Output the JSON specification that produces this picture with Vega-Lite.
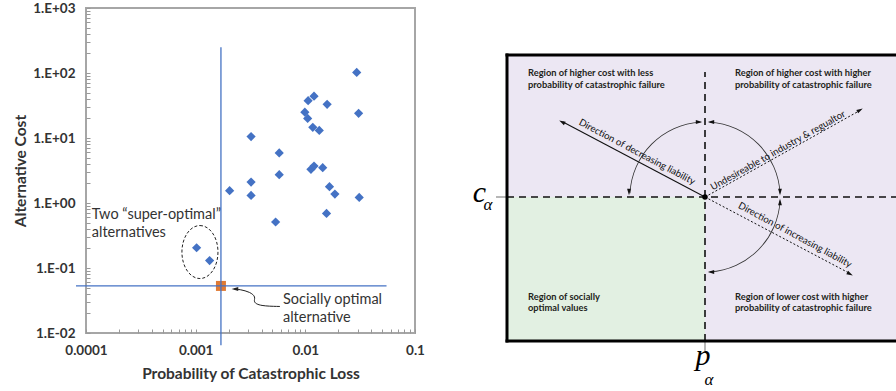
{
  "$schema": "https://vega.github.io/schema/vega-lite/v6.json",
  "background": "white",
  "padding": {"left": 12, "top": 0, "right": 0, "bottom": 0},
  "spacing": 36,
  "config": {"font": "Lato"},
  "datasets": {
    "alts": [
      {"p": 0.0294, "cost": 102}, {"p": 0.012, "cost": 44}, {"p": 0.0106, "cost": 37.5},
      {"p": 0.0158, "cost": 33}, {"p": 0.0306, "cost": 24}, {"p": 0.0099, "cost": 25},
      {"p": 0.0105, "cost": 20}, {"p": 0.0117, "cost": 14.6}, {"p": 0.0134, "cost": 13.1},
      {"p": 0.0032, "cost": 10.5}, {"p": 0.00578, "cost": 5.9}, {"p": 0.00578, "cost": 2.73},
      {"p": 0.01125, "cost": 3.3}, {"p": 0.012, "cost": 3.7}, {"p": 0.0144, "cost": 3.5},
      {"p": 0.0032, "cost": 2.1}, {"p": 0.0166, "cost": 1.78}, {"p": 0.0186, "cost": 1.37},
      {"p": 0.00204, "cost": 1.55}, {"p": 0.0032, "cost": 1.31}, {"p": 0.031, "cost": 1.22},
      {"p": 0.0156, "cost": 0.69}, {"p": 0.00536, "cost": 0.51}, {"p": 0.00102, "cost": 0.205},
      {"p": 0.00134, "cost": 0.13}
    ]
  },
  "hconcat": [
    {
      "width": 329,
      "height": 325,
      "view": {"stroke": "#a6a6a6", "strokeWidth": 2},
      "layer": [
        {
          "data": {"name": "alts"},
          "mark": {"type": "point", "shape": "diamond", "filled": true, "size": 85, "color": "#4472c4", "opacity": 1},
          "encoding": {
            "x": {"field": "p", "type": "quantitative",
              "scale": {"type": "log", "domain": [0.0001, 0.1], "nice": false},
              "axis": {"title": "Probability of Catastrophic Loss", "grid": false, "domain": false,
                "values": [0.0001,0.0002,0.0003,0.0004,0.0005,0.0006,0.0007,0.0008,0.0009,0.001,0.002,0.003,0.004,0.005,0.006,0.007,0.008,0.009,0.01,0.02,0.03,0.04,0.05,0.06,0.07,0.08,0.09,0.1],
                "labelExpr": "datum.value == 0.0001 ? '0.0001' : datum.value == 0.001 ? '0.001' : datum.value == 0.01 ? '0.01' : datum.value == 0.1 ? '0.1' : ''",
                "labelOverlap": false, "labelFlush": false, "tickSize": -4, "tickColor": "#999999",
                "labelFont": "Lato", "labelFontWeight": "bold", "labelFontSize": 13.5, "labelColor": "#333333", "labelPadding": 14,
                "titleFont": "Lato", "titleFontWeight": "bold", "titleFontSize": 15.5, "titleColor": "#333333", "titlePadding": 10}},
            "y": {"field": "cost", "type": "quantitative",
              "scale": {"type": "log", "domain": [0.01, 1000], "nice": false},
              "axis": {"title": "Alternative Cost", "grid": false, "domain": false,
                "values": [0.01,0.02,0.03,0.04,0.05,0.06,0.07,0.08,0.09,0.1,0.2,0.3,0.4,0.5,0.6,0.7,0.8,0.9,1,2,3,4,5,6,7,8,9,10,20,30,40,50,60,70,80,90,100,200,300,400,500,600,700,800,900,1000],
                "labelExpr": "datum.value == 1000 ? '1.E+03' : datum.value == 100 ? '1.E+02' : datum.value == 10 ? '1.E+01' : datum.value == 1 ? '1.E+00' : datum.value == 0.1 ? '1.E-01' : datum.value == 0.01 ? '1.E-02' : ''",
                "labelOverlap": false, "labelFlush": false, "tickSize": -4, "tickColor": "#999999",
                "labelFont": "Lato", "labelFontWeight": "bold", "labelFontSize": 13.5, "labelColor": "#333333", "labelPadding": 15,
                "titleFont": "Lato", "titleFontWeight": "bold", "titleFontSize": 15.5, "titleColor": "#333333", "titlePadding": 4}}
          }
        },
        {
          "data": {"values": [{"p": 0.0017, "cost": 0.053}]},
          "mark": {"type": "point", "shape": "square", "filled": true, "size": 100, "color": "#e07a34", "opacity": 1},
          "encoding": {"x": {"field": "p", "type": "quantitative"}, "y": {"field": "cost", "type": "quantitative"}}
        },
        {
          "data": {"values": [
            {"p": 0.0017, "p2": 0.0017, "cost": 0.0065, "cost2": 250},
            {"p": 0.000081, "p2": 0.055, "cost": 0.053, "cost2": 0.053}
          ]},
          "mark": {"type": "rule", "color": "#4472c4", "strokeWidth": 1.3},
          "encoding": {"x": {"field": "p", "type": "quantitative"}, "x2": {"field": "p2"}, "y": {"field": "cost", "type": "quantitative"}, "y2": {"field": "cost2"}}
        },
        {
          "data": {"values": [{"p": 0.001094, "cost": 0.176}]},
          "mark": {"type": "point", "filled": false, "size": 2809, "stroke": "#222222", "strokeWidth": 1, "strokeDash": [3, 2], "opacity": 1,
            "shape": "M0,-1C0.3756,-1 0.68,-0.5523 0.68,0C0.68,0.5523 0.3756,1 0,1C-0.3756,1 -0.68,0.5523 -0.68,0C-0.68,-0.5523 -0.3756,-1 0,-1Z"},
          "encoding": {"x": {"field": "p", "type": "quantitative"}, "y": {"field": "cost", "type": "quantitative"}}
        },
        {
          "data": {"values": [
            {"i": 1, "p": 0.00586, "cost": 0.0256}, {"i": 2, "p": 0.00385, "cost": 0.026},
            {"i": 3, "p": 0.00333, "cost": 0.030}, {"i": 4, "p": 0.00355, "cost": 0.0358},
            {"i": 5, "p": 0.00313, "cost": 0.0428}, {"i": 6, "p": 0.00254, "cost": 0.0467},
            {"i": 7, "p": 0.00225, "cost": 0.0475}
          ]},
          "mark": {"type": "line", "color": "#222222", "strokeWidth": 1, "interpolate": "basis"},
          "encoding": {"x": {"field": "p", "type": "quantitative"}, "y": {"field": "cost", "type": "quantitative"}, "order": {"field": "i"}}
        },
        {
          "data": {"values": [{"p": 0.00228, "cost": 0.0476}]},
          "mark": {"type": "point", "filled": true, "size": 45, "color": "#222222", "opacity": 1, "shape": "M-1,0L1,-0.6L1,0.6Z"},
          "encoding": {"x": {"field": "p", "type": "quantitative"}, "y": {"field": "cost", "type": "quantitative"}}
        },
        {
          "data": {"values": [
            {"p": 0.000113, "cost": 0.65, "label": "Two \u201csuper-optimal\u201d"},
            {"p": 0.000113, "cost": 0.345, "label": "alternatives"},
            {"p": 0.00625, "cost": 0.0322, "label": "Socially optimal"},
            {"p": 0.00625, "cost": 0.017, "label": "alternative"}
          ]},
          "mark": {"type": "text", "align": "left", "baseline": "middle", "font": "Lato", "fontSize": 14.5, "color": "#333333"},
          "encoding": {"x": {"field": "p", "type": "quantitative"}, "y": {"field": "cost", "type": "quantitative"}, "text": {"field": "label"}}
        }
      ]
    },
    {
      "width": 434,
      "height": 380,
      "view": {"stroke": null},
      "encoding": {
        "x": {"field": "x", "type": "quantitative", "scale": {"domain": [-24.3, 19.1], "nice": false, "zero": false}, "axis": null},
        "y": {"field": "y", "type": "quantitative", "scale": {"domain": [-19.1, 18.9], "nice": false, "zero": false}, "axis": null}
      },
      "layer": [
        {
          "data": {"values": [
            {"region": "other", "x": -19.8, "x2": 19.1, "y": -14.4, "y2": 14.2},
            {"region": "optimal", "x": -19.8, "x2": 0, "y": -14.4, "y2": 0}
          ]},
          "mark": {"type": "rect"},
          "encoding": {
            "x2": {"field": "x2"}, "y2": {"field": "y2"},
            "color": {"field": "region", "type": "nominal", "scale": {"domain": ["other", "optimal"], "range": ["#ece7f3", "#e2f0e2"]}, "legend": null}
          }
        },
        {
          "data": {"values": [
            {"x": -20.9, "x2": -19.8, "y": 0, "y2": 0},
            {"x": 0, "x2": 0, "y": -15.5, "y2": -14.4}
          ]},
          "mark": {"type": "rule", "color": "#888888", "strokeWidth": 1.2},
          "encoding": {"x2": {"field": "x2"}, "y2": {"field": "y2"}}
        },
        {
          "data": {"values": [
            {"x": -19.8, "x2": 19.1, "y": 0, "y2": 0},
            {"x": 0, "x2": 0, "y": -14.4, "y2": 12.5}
          ]},
          "mark": {"type": "rule", "color": "#111111", "strokeWidth": 1.6, "strokeDash": [7, 5]},
          "encoding": {"x2": {"field": "x2"}, "y2": {"field": "y2"}}
        },
        {
          "data": {"values": [
            {"x": -19.8, "x2": 19.1, "y": 14.2, "y2": 14.2},
            {"x": -19.8, "x2": 19.1, "y": -14.4, "y2": -14.4},
            {"x": -19.8, "x2": -19.8, "y": -14.4, "y2": 14.2}
          ]},
          "mark": {"type": "rule", "color": "#000000", "strokeWidth": 3, "strokeCap": "square"},
          "encoding": {"x2": {"field": "x2"}, "y2": {"field": "y2"}}
        },
        {
          "data": {"values": [{"x": 0, "x2": -14.2, "y": 0, "y2": 7.5}]},
          "mark": {"type": "rule", "color": "#111111", "strokeWidth": 1.1},
          "encoding": {"x2": {"field": "x2"}, "y2": {"field": "y2"}}
        },
        {
          "data": {"values": [
            {"x": 0, "x2": 15.4, "y": 0, "y2": 8.6},
            {"x": 0, "x2": 14.4, "y": 0, "y2": -7.6}
          ]},
          "mark": {"type": "rule", "color": "#111111", "strokeWidth": 1, "strokeDash": [2, 2]},
          "encoding": {"x2": {"field": "x2"}, "y2": {"field": "y2"}}
        },
        {
          "data": {"values": [{"x": 0, "y": 0}]},
          "mark": {"type": "arc", "theta": -1.52, "theta2": -0.06, "radius": 75.5, "radius2": 74.7, "color": "#333333"}
        },
        {
          "data": {"values": [{"x": 0, "y": 0}]},
          "mark": {"type": "arc", "theta": 0.06, "theta2": 1.52, "radius": 75.5, "radius2": 74.7, "color": "#333333"}
        },
        {
          "data": {"values": [{"x": 0, "y": 0}]},
          "mark": {"type": "arc", "theta": 1.62, "theta2": 3.08, "radius": 75.5, "radius2": 74.7, "color": "#333333"}
        },
        {
          "data": {"values": [
            {"x": -0.6, "y": 7.5, "dir": "R"}, {"x": 0.6, "y": 7.5, "dir": "L"},
            {"x": -7.6, "y": 0.5, "dir": "D"}, {"x": 7.5, "y": 0.5, "dir": "D"},
            {"x": 7.5, "y": -0.5, "dir": "U"}, {"x": 0.6, "y": -7.5, "dir": "L"},
            {"x": -14.3, "y": 7.5, "dir": "UL"}, {"x": 15.5, "y": 8.7, "dir": "UR"},
            {"x": 14.5, "y": -7.7, "dir": "DR"}
          ]},
          "mark": {"type": "point", "filled": true, "size": 40, "color": "#111111", "opacity": 1, "strokeWidth": 0},
          "encoding": {
            "shape": {"field": "dir", "type": "nominal", "legend": null,
              "scale": {"domain": ["R", "L", "D", "U", "UL", "UR", "DR"],
                "range": ["M1,0L-1,-0.6L-1,0.6Z", "M-1,0L1,-0.6L1,0.6Z", "M0,1L0.6,-1L-0.6,-1Z", "M0,-1L0.6,1L-0.6,1Z",
                  "M-0.885,-0.466L0.605,0.997L1.164,-0.064Z", "M0.871,-0.491L-1.166,-0.032L-0.576,1.014Z", "M0.882,0.471L-0.599,-1L-1.165,0.058Z"]}}
          }
        },
        {
          "data": {"values": [{"x": 0, "y": 0}]},
          "mark": {"type": "point", "shape": "circle", "filled": true, "size": 30, "color": "#000000", "opacity": 1}
        },
        {
          "data": {"values": [
            {"x": -17.7, "y": 12.37, "label": "Region of higher cost with less"},
            {"x": -17.7, "y": 11.2, "label": "probability of catastrophic failure"},
            {"x": 3.0, "y": 12.37, "label": "Region of higher cost with higher"},
            {"x": 3.0, "y": 11.2, "label": "probability of catastrophic failure"},
            {"x": -17.7, "y": -10.03, "label": "Region of socially"},
            {"x": -17.7, "y": -11.07, "label": "optimal values"},
            {"x": 3.0, "y": -10.03, "label": "Region of lower cost with higher"},
            {"x": 3.0, "y": -11.07, "label": "probability of catastrophic failure"}
          ]},
          "mark": {"type": "text", "align": "left", "baseline": "middle", "font": "Lato", "fontWeight": "bold", "fontSize": 9.3, "color": "#231f20"},
          "encoding": {"text": {"field": "label"}}
        },
        {
          "data": {"values": [{"x": -6.8, "y": 4.5, "label": "Direction of decreasing liability"}]},
          "mark": {"type": "text", "align": "center", "baseline": "middle", "angle": 27.8, "font": "Lato", "fontSize": 9.6, "color": "#111111"},
          "encoding": {"text": {"field": "label"}}
        },
        {
          "data": {"values": [{"x": 7.3, "y": 4.65, "label": "Undesireable to industry & regualtor"}]},
          "mark": {"type": "text", "align": "center", "baseline": "middle", "angle": -29.3, "font": "Lato", "fontSize": 9.6, "color": "#111111"},
          "encoding": {"text": {"field": "label"}}
        },
        {
          "data": {"values": [{"x": 9.0, "y": -3.8, "label": "Direction of increasing liability"}]},
          "mark": {"type": "text", "align": "center", "baseline": "middle", "angle": 28.3, "font": "Lato", "fontSize": 9.6, "color": "#111111"},
          "encoding": {"text": {"field": "label"}}
        },
        {
          "data": {"values": [
            {"x": -22.55, "y": -0.5, "label": "c"},
            {"x": -0.2, "y": -16.8, "label": "p"}
          ]},
          "mark": {"type": "text", "align": "center", "baseline": "alphabetic", "font": "Liberation Serif", "fontStyle": "italic", "fontSize": 30, "color": "#000000"},
          "encoding": {"text": {"field": "label"}}
        },
        {
          "data": {"values": [
            {"x": -21.7, "y": -1.3, "label": "\u03b1"},
            {"x": 0.4, "y": -18.8, "label": "\u03b1"}
          ]},
          "mark": {"type": "text", "align": "center", "baseline": "alphabetic", "font": "Liberation Serif", "fontStyle": "italic", "fontSize": 17, "color": "#000000"},
          "encoding": {"text": {"field": "label"}}
        }
      ]
    }
  ]
}
